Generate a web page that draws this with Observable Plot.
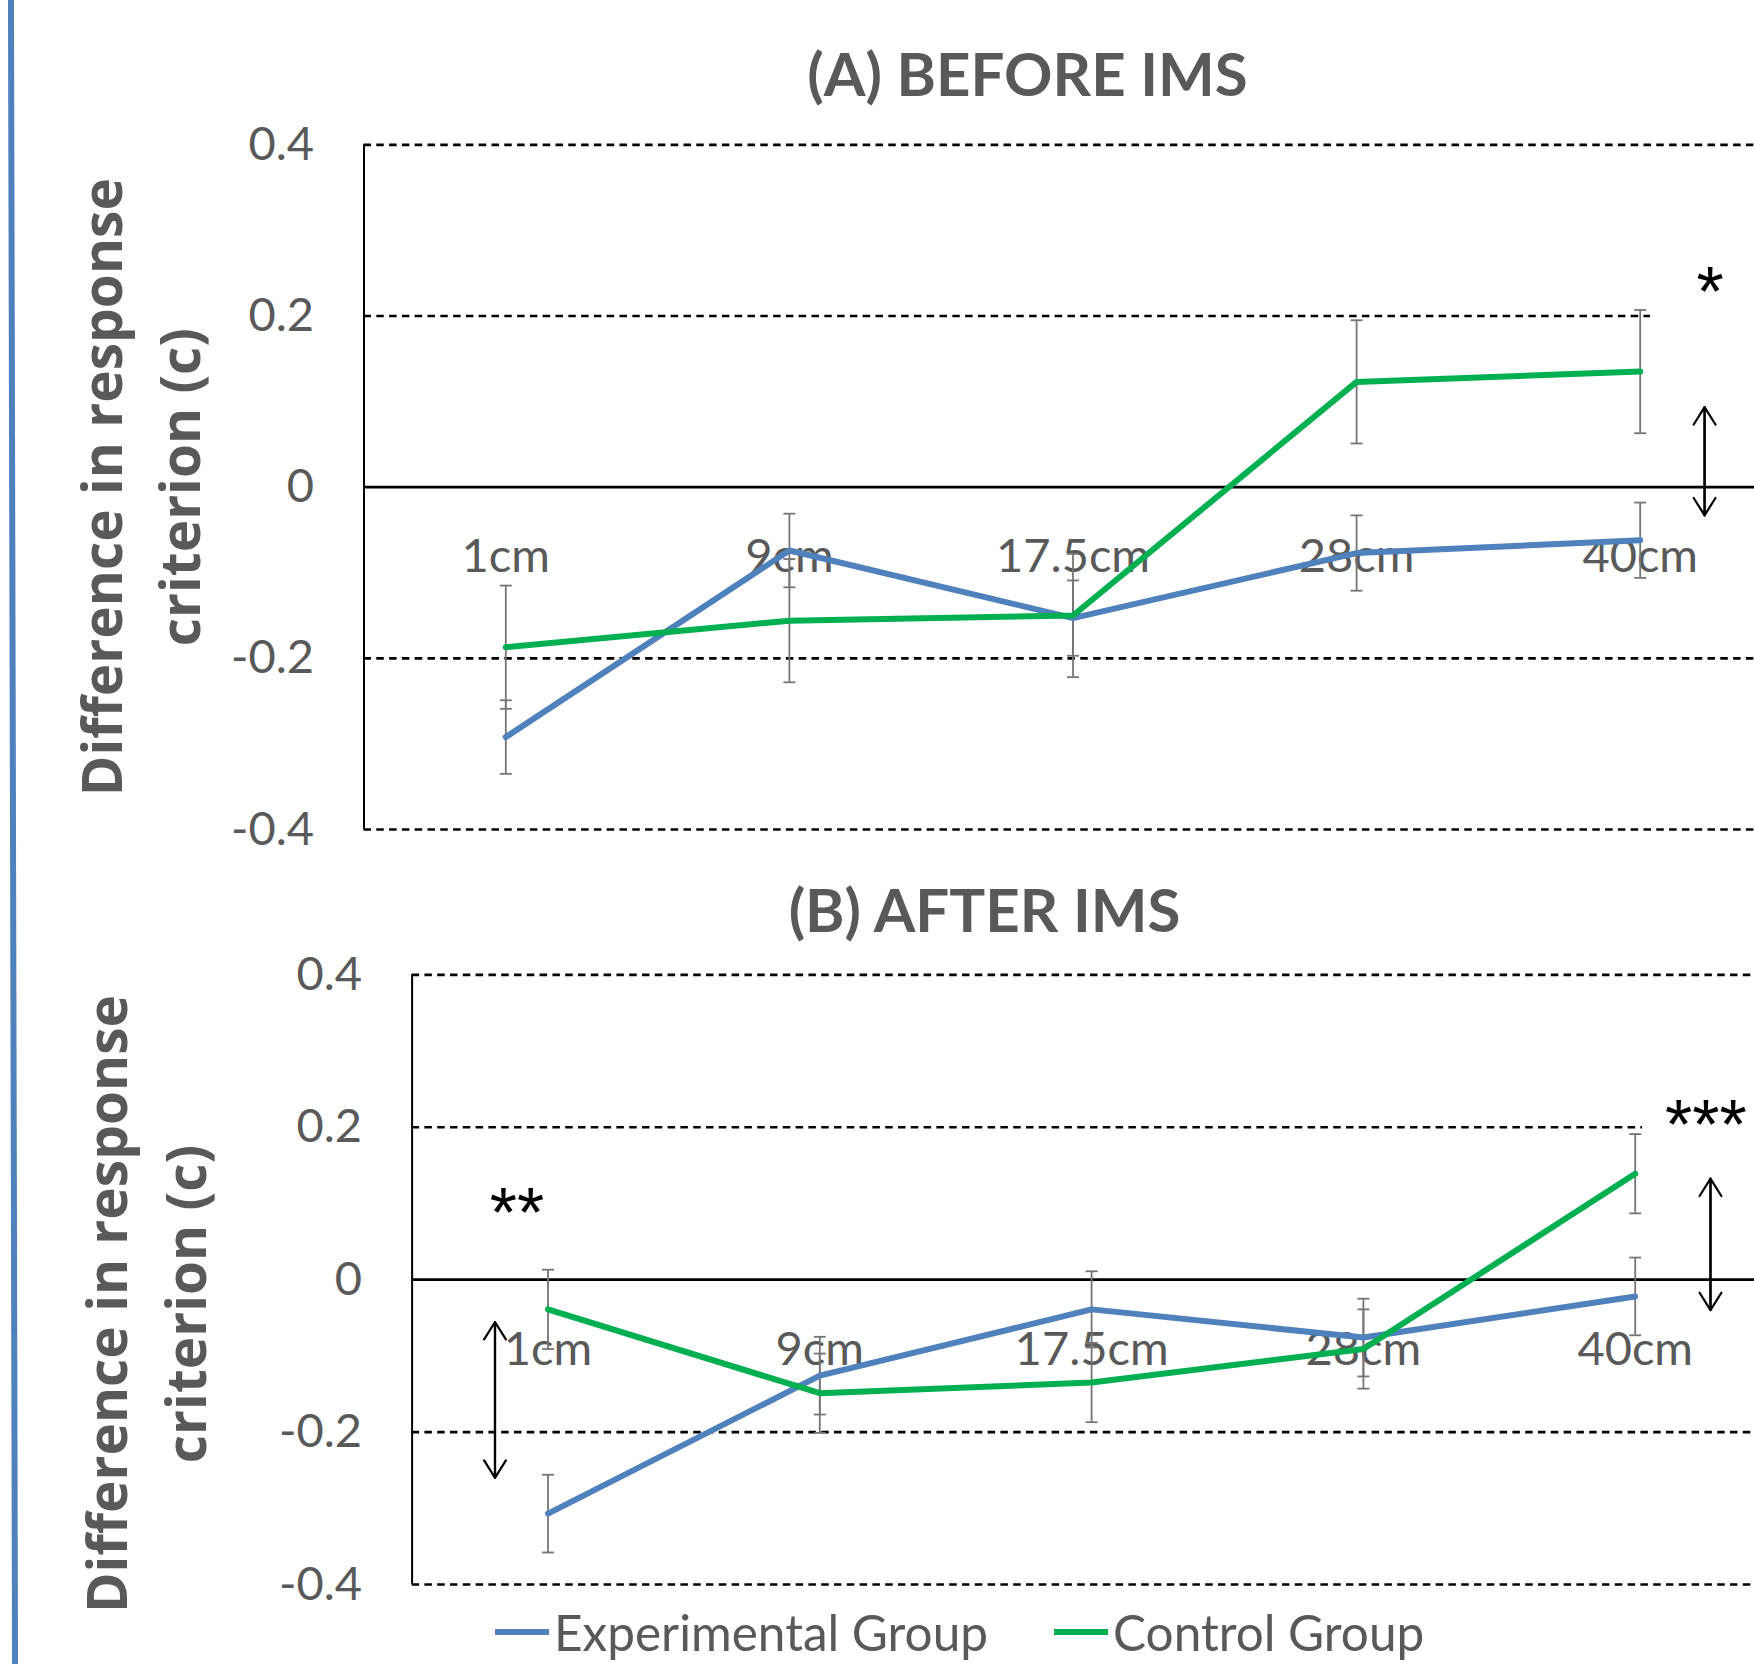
<!DOCTYPE html>
<html>
<head>
<meta charset="utf-8">
<script src="https://cdn.jsdelivr.net/npm/d3@7"></script>
<script src="https://cdn.jsdelivr.net/npm/@observablehq/plot@0.6"></script>
<style>
  html, body { margin: 0; padding: 0; background: #ffffff; }
  #wrap { position: relative; width: 1754px; height: 1664px; overflow: hidden; background: #ffffff; }
  .panel { position: absolute; left: 0; }
  #edge { position: absolute; left: 10px; top: -10px; width: 6px; height: 1684px; background: #4F81BD; transform: rotate(-0.14deg); }
  .leg { position: absolute; top: 1602px; height: 60px; display: flex; align-items: center; font-family: Lato, "Open Sans", sans-serif; font-size: 49.5px; color: #595959; white-space: nowrap; }
  .sw { display: inline-block; width: 54px; height: 6px; margin-right: 5px; }
</style>
</head>
<body>
<div id="wrap"><div id="edge"></div></div>
<script>
// ---- data ----
const categories = ["1cm", "9cm", "17.5cm", "28cm", "40cm"];
const yTicks = [-0.4, -0.2, 0, 0.2, 0.4];
const yTickLabels = ["-0.4", "-0.2", "0", "0.2", "0.4"];
const seriesNames = ["Experimental Group", "Control Group"];
const seriesColors = ["#4F81BD", "#00B050"];
const panelTitles = ["(A) BEFORE IMS", "(B) AFTER IMS"];
const yLabel = "Difference in response\ncriterion (c)";

// (A) before IMS
const beforeExperimental = [-0.292, -0.074, -0.153, -0.077, -0.062];
const beforeExperimentalErr = [0.043, 0.043, 0.044, 0.044, 0.044];
const beforeControl = [-0.187, -0.156, -0.150, 0.123, 0.135];
const beforeControlErr = [0.072, 0.072, 0.072, 0.072, 0.072];
// (B) after IMS
const afterExperimental = [-0.307, -0.126, -0.039, -0.076, -0.022];
const afterExperimentalErr = [0.051, 0.051, 0.050, 0.051, 0.051];
const afterControl = [-0.039, -0.149, -0.135, -0.091, 0.139];
const afterControlErr = [0.052, 0.052, 0.052, 0.052, 0.052];

// significance annotations (x in category-index units, y in data units)
const beforeSig = [{label: "*", x: 4.247, y: 0.239, arrowX: 4.227, top: 0.0935, bottom: -0.033}];
const afterSig = [
  {label: "**", x: -0.114, y: 0.1, arrowX: -0.195, top: -0.0556, bottom: -0.26},
  {label: "***", x: 4.26, y: 0.2147, arrowX: 4.277, top: 0.1326, bottom: -0.040}
];
// white label boxes (hide the 0.2 grid line behind the star labels)
const beforeBox = [{x1: 4.036, x2: 5, y1: 0.165, y2: 0.3}];
const afterBox = [{x1: 4.027, x2: 5, y1: 0.17, y2: 0.3}];

// ---- helpers ----
function rows(values, errs, s) {
  return values.map((v, i) => ({i, category: categories[i], v, e: errs[i], series: seriesNames[s]}));
}
const capSymbol = { draw(ctx) { ctx.moveTo(-6, 0); ctx.lineTo(6, 0); } };
const gray = "#595959";
const errGray = "#757575";
const tickFont = "Lato, 'Open Sans', sans-serif";

function panel(cfg) {
  const data = [...rows(cfg.exp, cfg.expErr, 0), ...rows(cfg.ctl, cfg.ctlErr, 1)];
  const caps = data.flatMap(d => [{i: d.i, y: d.v - d.e}, {i: d.i, y: d.v + d.e}]);
  const left = cfg.marginLeft, step = cfg.step;
  return Plot.plot({
    width: 1754,
    height: cfg.height,
    marginLeft: left,
    marginRight: 0,
    marginTop: cfg.marginTop,
    marginBottom: cfg.marginBottom,
    x: {domain: [-0.5, 4.5], range: [left, left + 5 * step], axis: null},
    y: {domain: [-0.4, 0.4], axis: null},
    color: {domain: seriesNames, range: seriesColors},
    style: {background: "transparent", overflow: "visible", fontFamily: tickFont},
    marks: [
      // grid
      Plot.ruleY(yTicks.filter(t => t !== 0), {y: d => d, stroke: "#000", strokeWidth: 2.7, strokeDasharray: "7.5,5.3"}),
      Plot.rect(cfg.box, {x1: "x1", x2: "x2", y1: "y1", y2: "y2", fill: "#fff"}),
      Plot.ruleY([0], {stroke: "#000", strokeWidth: 2.6}),
      Plot.ruleX([-0.5], {y1: -0.4, y2: 0.4, stroke: "#000", strokeWidth: 2}),
      // y tick labels
      Plot.text(yTicks, {y: d => d, text: (d, i) => yTickLabels[i], frameAnchor: "left", textAnchor: "end", dx: -50, fontSize: 47, fill: gray, fontFamily: tickFont}),
      // category labels next to the zero line
      Plot.text(categories, {x: (d, i) => i, y: () => 0, text: d => d, dy: cfg.catDy, fontSize: 47, fill: gray, fontFamily: tickFont}),
      // error bars
      Plot.ruleX(data, {x: "i", y1: d => d.v - d.e, y2: d => d.v + d.e, stroke: errGray, strokeWidth: 1.8}),
      Plot.dot(caps, {x: "i", y: "y", symbol: capSymbol, fill: "none", stroke: errGray, strokeWidth: 1.8}),
      // series lines
      Plot.line(data, {x: "i", y: "v", z: "series", stroke: "series", strokeWidth: 6, strokeLinejoin: "round"}),
      // significance arrows & stars
      Plot.arrow(cfg.sig, {x1: "arrowX", x2: "arrowX", y1: "bottom", y2: "top", stroke: "#000", strokeWidth: 2.2, headLength: 14, headAngle: 64}),
      Plot.arrow(cfg.sig, {x1: "arrowX", x2: "arrowX", y1: "top", y2: "bottom", stroke: "#000", strokeWidth: 2.2, headLength: 14, headAngle: 64}),
      Plot.text(cfg.sig, {x: "x", y: "y", text: "label", dy: 11, fontSize: 70, fill: "#000", fontFamily: "'Liberation Sans', Arial, sans-serif"}),
      // title
      Plot.text([cfg.title], {frameAnchor: "top-left", textAnchor: "middle", lineAnchor: "middle", dx: cfg.titleDx, dy: cfg.titleDy, fontSize: 60, fontWeight: "bold", fill: gray, fontFamily: tickFont}),
      // y label
      Plot.text([yLabel], {frameAnchor: "left", rotate: -90, textAnchor: "middle", dx: cfg.labelDx, dy: cfg.labelDy, lineAnchor: "middle", lineHeight: 1.43, fontSize: 55, fontWeight: "bold", fill: gray, fontFamily: "'Open Sans', sans-serif"})
    ]
  });
}

const wrap = document.getElementById("wrap");

const svgA = panel({
  exp: beforeExperimental, expErr: beforeExperimentalErr,
  ctl: beforeControl, ctlErr: beforeControlErr,
  sig: beforeSig, box: beforeBox, title: panelTitles[0],
  height: 860, marginTop: 144.3, marginBottom: 31, marginLeft: 363.5, step: 283.6,
  catDy: 69.4, titleDx: 663.5, titleDy: -68.3, labelDx: -228, labelDy: 0
});
svgA.classList.add("panel");
svgA.style.top = "0px";
wrap.appendChild(svgA);

const svgB = panel({
  exp: afterExperimental, expErr: afterExperimentalErr,
  ctl: afterControl, ctlErr: afterControlErr,
  sig: afterSig, box: afterBox, title: panelTitles[1],
  height: 804, marginTop: 114.3, marginBottom: 80, marginLeft: 411.6, step: 271.8,
  catDy: 70.4, titleDx: 572.4, titleDy: -62.3, labelDx: -270.6, labelDy: 24.4
});
svgB.classList.add("panel");
svgB.style.top = "860px";
wrap.appendChild(svgB);

// legend below the chart
const legendLeft = [495, 1054];
seriesNames.forEach((name, k) => {
  const item = document.createElement("div");
  item.className = "leg";
  item.style.left = legendLeft[k] + "px";
  const sw = document.createElement("span");
  sw.className = "sw";
  sw.style.background = seriesColors[k];
  item.appendChild(sw);
  item.appendChild(document.createTextNode(name));
  wrap.appendChild(item);
});
</script>
</body>
</html>
